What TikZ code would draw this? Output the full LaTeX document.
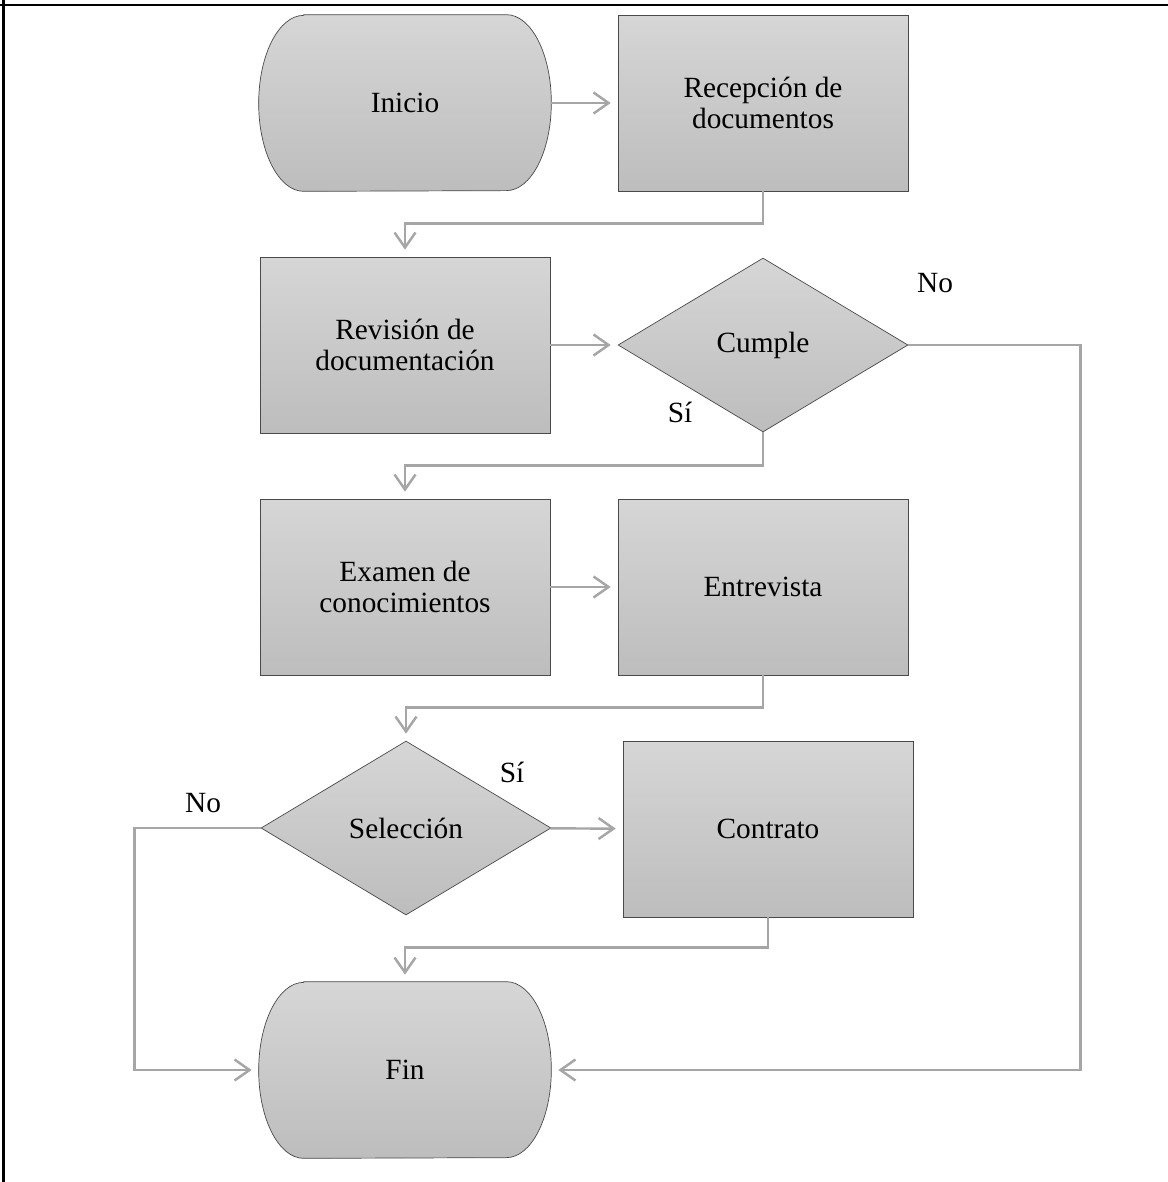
\documentclass[tikz,border=0pt]{standalone}
\usepackage{fontspec}
\setmainfont{Liberation Serif}
\usepackage{tikz}
\usetikzlibrary{shapes.geometric,arrows.meta,backgrounds}
\definecolor{boxtop}{HTML}{D6D6D6}
\definecolor{boxbottom}{HTML}{BDBDBD}
\definecolor{boxline}{HTML}{4A4A4A}
\definecolor{linkgray}{HTML}{A6A6A6}
\newcommand{\flowfont}{\fontsize{16.7}{17.5}\selectfont}
\tikzset{proc/.style={black,draw=boxline,top color=boxtop,bottom color=boxbottom,rectangle,minimum width=5.8cm,minimum height=3.52cm,align=center,font=\flowfont}}
\tikzset{decision/.style={black,draw=boxline,top color=boxtop,bottom color=boxbottom,diamond,minimum width=5.8cm,minimum height=3.48cm,inner sep=0pt,font=\flowfont}}
\tikzset{terminal/.style={black,rectangle,minimum width=5.84cm,minimum height=3.52cm,font=\flowfont}}
\tikzset{link/.style={draw=linkgray,line width=1.4pt,-{Straight Barb[length=0.3cm,width=0.42cm]},shorten >=0.14cm}}
\tikzset{answer/.style={black,font=\flowfont}}
% rounded outline behind a terminal node
\newcommand{\terminalbg}[1]{%
  \shade[draw=boxline,top color=boxtop,bottom color=boxbottom]
    ([xshift=0.9cm]#1.north west) -- ([xshift=-0.9cm]#1.north east)
    arc[start angle=90,end angle=-90,x radius=0.9cm,y radius=1.76cm]
    -- ([xshift=0.9cm]#1.south west)
    arc[start angle=270,end angle=90,x radius=0.9cm,y radius=1.76cm] -- cycle;}

\begin{document}
\begin{tikzpicture}[x=0.02cm,y=-0.02cm]
    \useasboundingbox (0,0) rectangle (1168,1182);
    \draw[line width=1.2pt] (0,5) -- (1168,5);
    \draw[line width=1.2pt] (3.5,0) -- (3.5,1182);

    \node[terminal] (ini) at (405,103) {Inicio};

    \node[proc] (rec) at (763,103) {Recepción de\\documentos};

    \node[proc] (rev) at (405,345) {Revisión de\\documentación};

    \node[decision] (cum) at (763,345) {Cumple};

    \node[proc] (exa) at (405,587) {Examen de\\conocimientos};

    \node[proc] (ent) at (763,587) {Entrevista};

    \node[decision] (sel) at (406,828) {Selección};

    \node[proc] (con) at (768,829) {Contrato};

    \node[terminal] (fin) at (405,1070) {Fin};

    \begin{scope}[on background layer]
        \terminalbg{ini}
        \terminalbg{fin}
    \end{scope}

    \node[answer] (cumno) at (935,283) {No};
    \node[answer] (cumsi) at (680,412) {Sí};
    \node[answer] (selsi) at (512,772) {Sí};
    \node[answer] (selno) at (203,803) {No};


    \draw[link] (ini) -- (rec);
    \draw[link] (rec.south) -- ++(0,32) -| (rev.north);
    \draw[link] (rev) -- (cum);
    \draw[link] (cum.east) -- ++(172,0) |- (fin.east);
    \draw[link] (cum.south) -- ++(0,33) -| (exa.north);
    \draw[link] (exa) -- (ent);
    \draw[link] (ent.south) -- ++(0,32) -| (sel.north);
    \draw[link] (sel) -- (con);
    \draw[link] (sel.west) -- ++(-126,0) |- (fin.west);
    \draw[link] (con.south) -- ++(0,30) -| (fin.north);
  \end{tikzpicture}
\end{document}
